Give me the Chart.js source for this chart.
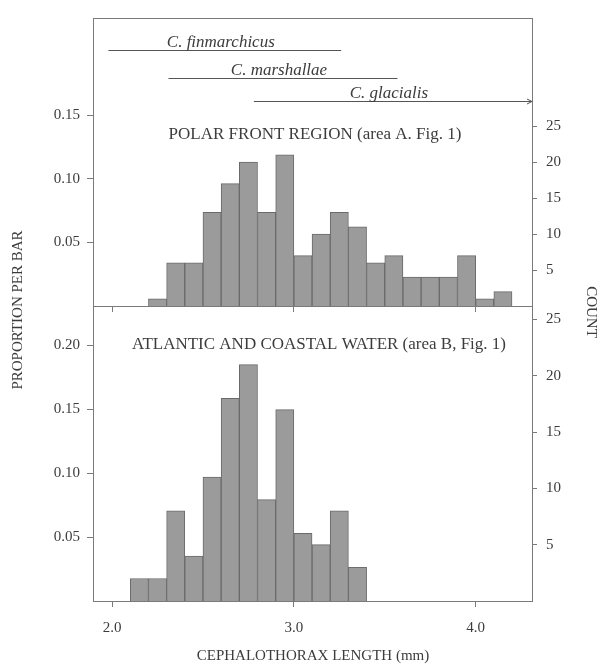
<!DOCTYPE html>
<html>
<head>
<meta charset="utf-8">
<script src="https://cdn.jsdelivr.net/npm/chart.js@4/dist/chart.umd.min.js"></script>
<style>
  html, body { margin: 0; padding: 0; background: #fff; }
  #wrap { position: relative; width: 602px; height: 664px; }
  #wrap canvas { position: absolute; left: 0; top: 0; }
</style>
</head>
<body>
<div id="wrap">
  <canvas id="topChart" width="602" height="664"></canvas>
  <canvas id="botChart" width="602" height="664"></canvas>
</div>
<script>
// bin left edges (mm) and counts per 0.1 mm bar
const binsTop = [2.2, 2.3, 2.4, 2.5, 2.6, 2.7, 2.8, 2.9, 3.0, 3.1, 3.2, 3.3, 3.4, 3.5, 3.6, 3.7, 3.8, 3.9, 4.0, 4.1];
const countsTop = [1, 6, 6, 13, 17, 20, 13, 21, 7, 10, 13, 11, 6, 7, 4, 4, 4, 7, 1, 2];
const binsBottom = [2.1, 2.2, 2.3, 2.4, 2.5, 2.6, 2.7, 2.8, 2.9, 3.0, 3.1, 3.2, 3.3];
const countsBottom = [2, 2, 8, 4, 11, 18, 21, 9, 17, 6, 5, 8, 3];
const binWidth = 0.1;

const xTicks = [2.0, 3.0, 4.0];
const propTicksTop = [0.05, 0.10, 0.15];
const propTicksBottom = [0.05, 0.10, 0.15, 0.20];
const countTicks = [5, 10, 15, 20, 25];

// size ranges of the species (mm)
const speciesNames = ['C. finmarchicus', 'C. marshallae', 'C. glacialis'];
const speciesFrom = [1.98, 2.31, 2.78];
const speciesTo = [3.26, 3.57, 4.31];

const titleTop = 'POLAR FRONT REGION (area A. Fig. 1)';
const titleBottom = 'ATLANTIC AND COASTAL WATER (area B, Fig. 1)';

const FONT = "'Liberation Serif', 'DejaVu Serif', serif";
const INK = '#3c3c3c';
const LINE = '#7a7a7a';
const X_MIN = 1.895, X_MAX = 4.31;

function barPoints(bins, counts) {
  return bins.map((b, i) => ({ x: b + binWidth / 2, y: counts[i] }));
}

function fixTicks(list) {
  return scale => { scale.ticks = list.map(v => ({ value: v })); };
}

function makeScales(opts) {
  return {
    x: {
      type: 'linear', min: X_MIN, max: X_MAX, position: 'bottom', offset: false,
      afterBuildTicks: fixTicks(xTicks),
      afterFit: s => { s.height = opts.xHeight; },
      grid: { offset: false, drawOnChartArea: false, tickLength: 6, color: LINE },
      border: { color: LINE },
      ticks: {
        display: opts.xLabels, padding: 12, color: INK,
        font: { family: FONT, size: 15 },
        callback: v => v.toFixed(1)
      }
    },
    prop: {
      position: 'left', min: 0, max: opts.propMax,
      afterBuildTicks: fixTicks(opts.propTicks),
      afterFit: s => { s.width = 93; },
      grid: { drawOnChartArea: false, tickLength: 6, color: LINE },
      border: { color: LINE },
      ticks: {
        padding: 7, color: INK, font: { family: FONT, size: 15 },
        callback: v => v.toFixed(2)
      }
    },
    y: {
      position: 'right', min: 0, max: opts.countMax,
      afterBuildTicks: fixTicks(countTicks),
      afterFit: s => { s.width = 70; },
      grid: { drawOnChartArea: false, tickLength: 5, color: LINE },
      border: { color: LINE },
      ticks: { padding: 9, color: INK, font: { family: FONT, size: 15 } }
    }
  };
}

function barDataset(bins, counts) {
  return {
    type: 'bar',
    data: barPoints(bins, counts),
    xAxisID: 'x', yAxisID: 'y',
    backgroundColor: '#9b9b9b',
    borderColor: '#6a6a6a',
    borderWidth: 1,
    barPercentage: 1,
    categoryPercentage: 1
  };
}

const rowY = [50, 78, 101];

const topText = {
  id: 'topText',
  afterDraw(chart) {
    const { ctx, chartArea } = chart;
    const xs = chart.scales.x;
    ctx.save();
    // frame top line
    ctx.strokeStyle = LINE;
    ctx.lineWidth = 1;
    ctx.beginPath();
    ctx.moveTo(chartArea.left, chartArea.top + 0.5);
    ctx.lineTo(chartArea.right, chartArea.top + 0.5);
    ctx.stroke();
    // species ranges
    ctx.fillStyle = INK;
    ctx.strokeStyle = '#555';
    ctx.font = "italic 17px " + FONT;
    ctx.textAlign = 'center';
    ctx.textBaseline = 'alphabetic';
    speciesNames.forEach((name, i) => {
      const x1 = xs.getPixelForValue(speciesFrom[i]);
      const x2 = Math.min(xs.getPixelForValue(speciesTo[i]), chartArea.right);
      const y = rowY[i] + 0.5;
      ctx.beginPath();
      ctx.moveTo(x1, y);
      ctx.lineTo(x2, y);
      ctx.stroke();
      if (speciesTo[i] > X_MAX - 0.01) {
        ctx.beginPath();
        ctx.moveTo(x2 - 5, y - 2.5);
        ctx.lineTo(x2, y);
        ctx.lineTo(x2 - 5, y + 2.5);
        ctx.stroke();
      }
      ctx.fillText(name, (x1 + x2) / 2 - 4, y - 4);
    });
    ctx.font = "17px " + FONT;
    ctx.textBaseline = 'middle';
    ctx.fillText(titleTop, 315, 135);
    ctx.restore();
  }
};

const bottomText = {
  id: 'bottomText',
  afterDraw(chart) {
    const { ctx } = chart;
    ctx.save();
    ctx.fillStyle = INK;
    ctx.textAlign = 'center';
    ctx.textBaseline = 'middle';
    ctx.font = "17px " + FONT;
    ctx.fillText(titleBottom, 319, 345);
    ctx.font = "15px " + FONT;
    ctx.fillText('CEPHALOTHORAX LENGTH (mm)', 313, 656);
    ctx.translate(18, 310);
    ctx.rotate(-Math.PI / 2);
    ctx.fillText('PROPORTION PER BAR', 0, 0);
    ctx.restore();
    ctx.save();
    ctx.fillStyle = INK;
    ctx.textAlign = 'center';
    ctx.textBaseline = 'middle';
    ctx.font = "15px " + FONT;
    ctx.translate(591, 312);
    ctx.rotate(Math.PI / 2);
    ctx.fillText('COUNT', 0, 0);
    ctx.restore();
  }
};

const common = {
  responsive: false,
  animation: false,
  plugins: { legend: { display: false }, tooltip: { enabled: false } }
};

new Chart(document.getElementById('topChart'), {
  type: 'bar',
  data: { datasets: [barDataset(binsTop, countsTop)] },
  options: Object.assign({}, common, {
    layout: { padding: { top: 10 } },
    scales: makeScales({ xHeight: 664 - 306, xLabels: false, propMax: 0.2265, propTicks: propTicksTop, countMax: 40 })
  }),
  plugins: [topText]
});

new Chart(document.getElementById('botChart'), {
  type: 'bar',
  data: { datasets: [barDataset(binsBottom, countsBottom)] },
  options: Object.assign({}, common, {
    layout: { padding: { top: 306 } },
    scales: makeScales({ xHeight: 63, xLabels: true, propMax: 0.2305, propTicks: propTicksBottom, countMax: 26.2 })
  }),
  plugins: [bottomText]
});
</script>
</body>
</html>
